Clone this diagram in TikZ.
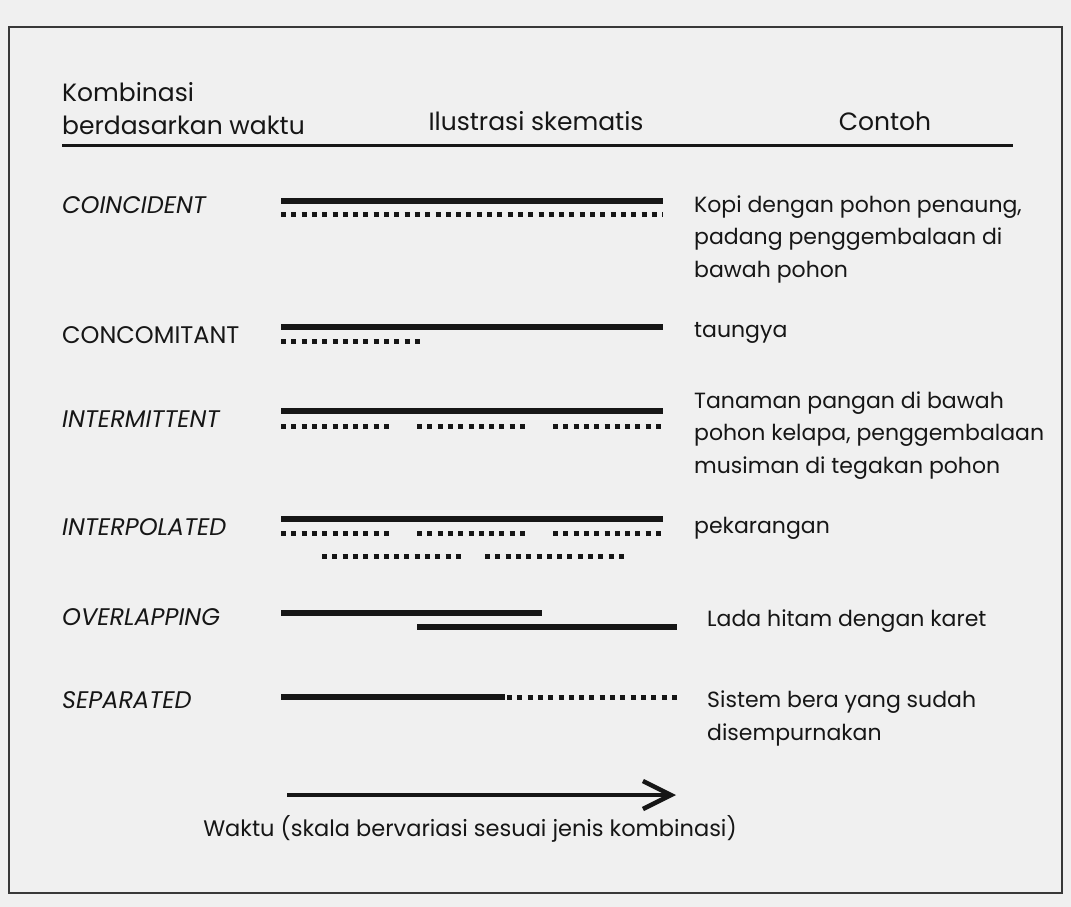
\documentclass[tikz,border=0pt]{standalone}
\usepackage{fontspec}
\setmainfont{Poppins}
\usepackage{tikz}
\usetikzlibrary{arrows.meta}
\definecolor{cPaper}{RGB}{240,240,240}
\definecolor{cInk}{RGB}{22,22,22}
\tikzset{
	txt/.style  ={anchor=base west, inner sep=0pt, text=cInk, align=left, font=\fontsize{22}{32.5}\selectfont},
	head/.style ={txt, font=\fontsize{25}{33}\selectfont},
	kind/.style ={txt, font=\fontsize{24}{30}\selectfont\itshape},
	bar/.style  ={line width=6.5pt, draw=cInk},
	dots/.style ={line width=5pt, draw=cInk, dash pattern=on 5pt off 5.3pt},
}

\begin{document}
\begin{tikzpicture}[x=1pt, y=-1pt]
	% paper and frame
	\fill[cPaper] (0,0) rectangle (1071,907);
	\useasboundingbox (0,0) rectangle (1071,907);
	\draw[line width=1.6pt, cInk!85] (9,27) rectangle (1062,893);
	% header
	\node[head] (hKomb) at (62,134) {Kombinasi\\berdasarkan waktu};
	\node[head, anchor=base] (hIlus) at (536,130) {Ilustrasi skematis};
	\node[head, anchor=base] (hCont) at (885,130) {Contoh};
	\draw[line width=3pt, cInk] (62,145) -- (1013,145);
	% row labels
	\node[kind] (kCoin) at (62,213) {COINCIDENT};
	\node[kind, font=\fontsize{24}{30}\selectfont] (kConc) at (62,343) {CONCOMITANT};
	\node[kind] (kInte) at (62,427) {INTERMITTENT};
	\node[kind] (kIntp) at (62,535) {INTERPOLATED};
	\node[kind] (kOver) at (62,625) {OVERLAPPING};
	\node[kind] (kSepa) at (62,708) {SEPARATED};
	% examples (base = last line)
	\node[txt] (eCoin) at (694,277) {Kopi dengan pohon penaung,\\padang penggembalaan di\\bawah pohon};
	\node[txt] (eConc) at (694,337) {taungya};
	\node[txt] (eInte) at (694,473) {Tanaman pangan di bawah\\pohon kelapa, penggembalaan\\musiman di tegakan pohon};
	\node[txt] (eIntp) at (694,533) {pekarangan};
	\node[txt] (eOver) at (707,626) {Lada hitam dengan karet};
	\node[txt] (eSepa) at (707,740) {Sistem bera yang sudah\\disempurnakan};
	% coincident
	\draw[bar]  (281,201) -- (663,201);
	\draw[dots] (281,214) -- (663,214);
	% concomitant
	\draw[bar]  (281,327) -- (663,327);
	\draw[dots] (281,341) -- (420,341);
	% intermittent
	\draw[bar]  (281,411) -- (663,411);
	\foreach \a/\b in {281/390, 417/527, 553/663} \draw[dots] (\a,426) -- (\b,426);
	% interpolated
	\draw[bar]  (281,519) -- (663,519);
	\foreach \a/\b in {281/390, 417/527, 553/663} \draw[dots] (\a,533) -- (\b,533);
	\foreach \a/\b in {322/461, 485/624} \draw[dots] (\a,556) -- (\b,556);
	% overlapping
	\draw[bar]  (281,613) -- (542,613);
	\draw[bar]  (417,627) -- (677,627);
	% separated
	\draw[bar]  (281,697) -- (505,697);
	\draw[dots] (507,697) -- (680,697);
	% time axis
	\coordinate (t0) at (287,795);
	\coordinate (t1) at (676,795);
	\draw[line width=4.5pt, draw=cInk, -{Straight Barb[length=28pt, width=28pt, line width=4.5pt]}] (t0) -- (t1);
	\node[txt, anchor=base, font=\fontsize{22.5}{30}\selectfont] (cap) at (470,836) {Waktu (skala bervariasi sesuai jenis kombinasi)};
\end{tikzpicture}
\end{document}
